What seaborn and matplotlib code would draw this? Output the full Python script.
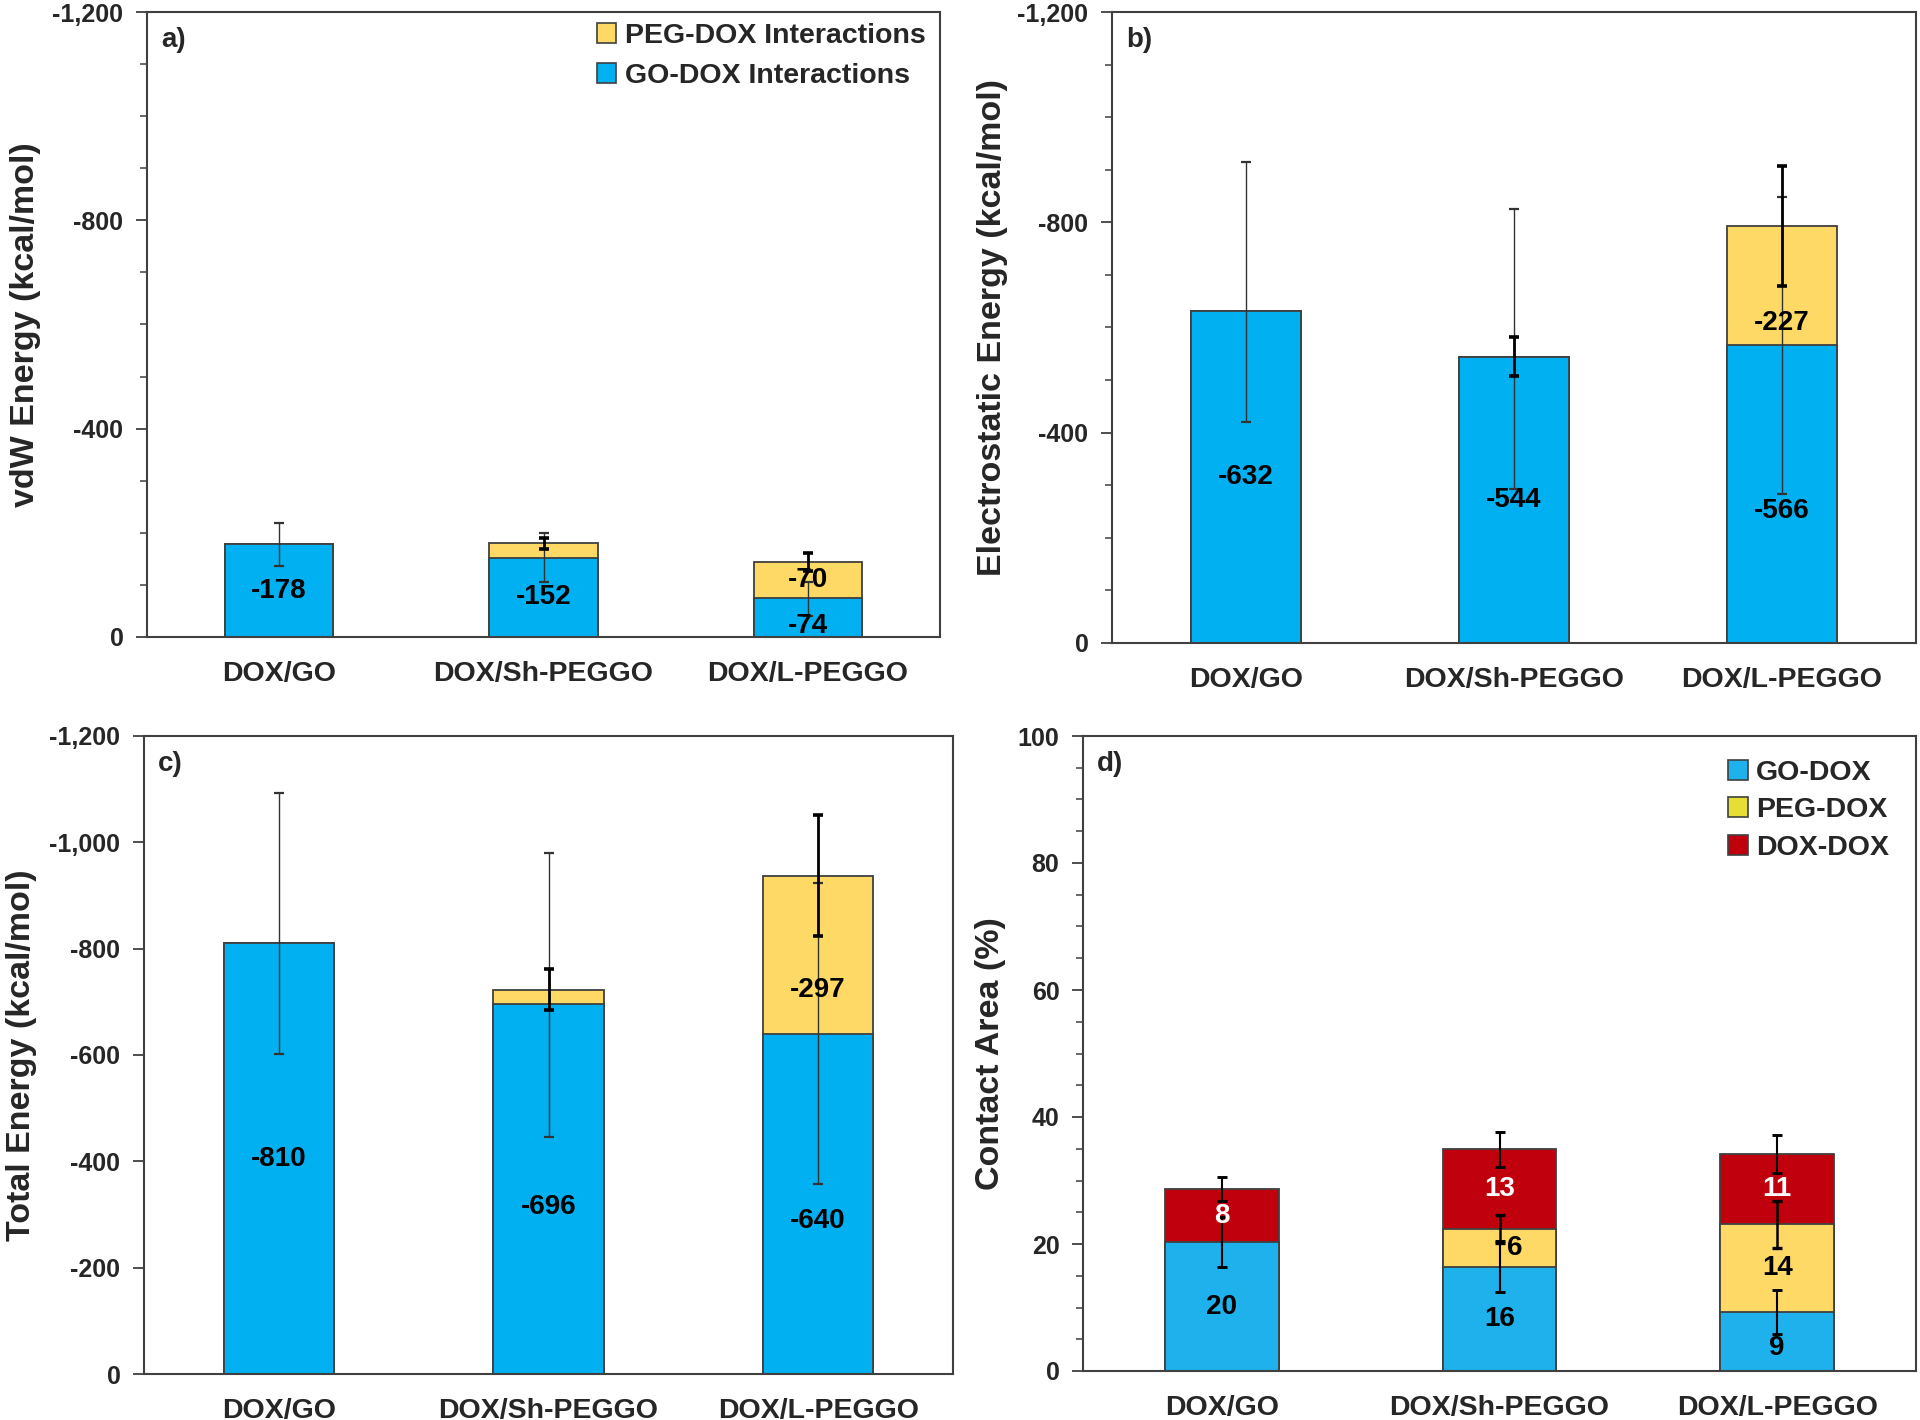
import numpy as np
import pandas as pd
import matplotlib
matplotlib.use("Agg")
import matplotlib.pyplot as plt
import matplotlib.transforms as mtransforms
from matplotlib.ticker import MultipleLocator, FuncFormatter, NullLocator
from matplotlib.patches import Patch
import seaborn as sns

# ---------------- data ----------------
categories = ["DOX/GO", "DOX/Sh-PEGGO", "DOX/L-PEGGO"]

# a) vdW energy (kcal/mol)
vdw_go = [-178, -152, -74]
vdw_peg = [0, -28, -70]
vdw_go_err_up = [41, 48, 31]
vdw_go_err_down = [41, 47, 33]
vdw_peg_err = [0, 11, 17]

# b) electrostatic energy (kcal/mol)
elec_go = [-632, -544, -566]
elec_peg = [0, 0, -227]
elec_go_err_up = [282, 282, 282]
elec_go_err_down = [211, 251, 283]
elec_peg_err = [0, 37, 114]

# c) total energy (kcal/mol)
tot_go = [-810, -696, -640]
tot_peg = [0, -27, -297]
tot_go_err_up = [282, 284, 283]
tot_go_err_down = [208, 250, 283]
tot_peg_err = [0, 38, 114]

# d) contact area (%)
area_go = [20.3, 16.4, 9.3]
area_peg = [0.0, 5.9, 13.8]
area_dox = [8.3, 12.6, 11.1]
area_go_err = [3.9, 4.0, 3.4]
area_peg_err = [0.0, 2.2, 3.7]
area_dox_err = [1.9, 2.7, 3.0]

# ---------------- style ----------------
sns.set_theme(style="white")
plt.rcParams["font.family"] = ["Liberation Sans", "DejaVu Sans"]
plt.rcParams["font.weight"] = "bold"
plt.rcParams["axes.labelweight"] = "bold"

BLUE = "#00B0F0"
BLUE_D = "#1EB1EC"
YELLOW = "#FFD966"
RED = "#C0000C"
EDGE = "#404040"
SPINE = "#404040"

fig = plt.figure(figsize=(19.2, 14.2), dpi=100)
W, H = 1920.0, 1420.0


def add_axes_px(left, top, right, bottom):
    return fig.add_axes([left / W, 1 - bottom / H, (right - left) / W, (bottom - top) / H])


ax_a = add_axes_px(147, 12, 940, 637)
ax_b = add_axes_px(1112, 12, 1916, 643)
ax_c = add_axes_px(144, 736, 953, 1374)
ax_d = add_axes_px(1083, 736, 1916, 1371)

label_shift = {
    ("a", 0, 2): (0, -6),
    ("b", 0, 2): (0, -12),
    ("b", 1, 2): (0, -27),
    ("c", 0, 1): (0, -13),
    ("c", 0, 2): (0, -12),
    ("c", 1, 2): (0, -25),
    ("d", 1, 1): (11, 0),
    ("d", 0, 2): (0, -5),
}


def draw_panel(ax, key, layers, colors, errs, err_styles, label_min, label_colors):
    cum = np.cumsum(np.array(layers, dtype=float), axis=0)
    for k in reversed(range(len(layers))):
        df = pd.DataFrame({"cat": categories, "val": cum[k]})
        sns.barplot(data=df, x="cat", y="val", order=categories, color=colors[k],
                    saturation=1, width=0.41, edgecolor=EDGE, linewidth=1.3,
                    errorbar=None, ax=ax, zorder=2)
    # error bars
    for k, (e_lo, e_hi) in enumerate(errs):
        e_lo = np.asarray(e_lo, float)
        e_hi = np.asarray(e_hi, float)
        idx = np.where((e_lo > 0) | (e_hi > 0))[0]
        if len(idx) == 0:
            continue
        lw, col = err_styles[k]
        ax.errorbar(idx, cum[k][idx], yerr=[e_lo[idx], e_hi[idx]], fmt="none",
                    ecolor=col, elinewidth=lw, capsize=3.5, capthick=lw + 0.6, zorder=4)
    # value labels
    for k in range(len(layers)):
        base = cum[k - 1] if k > 0 else np.zeros(len(categories))
        for i, v in enumerate(layers[k]):
            if abs(v) < label_min:
                continue
            mid = base[i] + v / 2.0
            dx, dy = label_shift.get((key, k, i), (0, 0))
            ax.annotate(f"{v:.0f}", xy=(i, mid), xytext=(dx, dy), textcoords="offset points",
                        ha="center", va="center", fontsize=20, fontweight="bold",
                        color=label_colors[k], zorder=5)


def style_axes(ax, major, minor, ylim, ylabel, letter, label_x):
    ax.set_xlim(-0.5, 2.5)
    ax.set_ylim(*ylim)
    ax.yaxis.set_major_locator(MultipleLocator(major))
    if minor:
        ax.yaxis.set_minor_locator(MultipleLocator(minor))
    else:
        ax.yaxis.set_minor_locator(NullLocator())
    ax.yaxis.set_major_formatter(FuncFormatter(lambda v, p: "0" if abs(v) < 1e-9 else f"{v:,.0f}"))
    ax.tick_params(axis="y", which="major", direction="out", length=8, width=1.3,
                   color=SPINE, labelsize=18, pad=9, left=True, right=False)
    ax.tick_params(axis="y", which="minor", direction="out", length=5, width=1.1,
                   color=SPINE, left=True, right=False)
    ax.tick_params(axis="x", length=0, labelsize=20.5, pad=17)
    for lab in ax.get_xticklabels() + ax.get_yticklabels():
        lab.set_fontweight("bold")
    for s in ax.spines.values():
        s.set_visible(True)
        s.set_color(SPINE)
        s.set_linewidth(1.5)
    ax.set_xlabel("")
    ax.set_ylabel(ylabel, fontsize=24.5, fontweight="bold")
    tr = mtransforms.blended_transform_factory(fig.transFigure, ax.transAxes)
    ax.yaxis.set_label_coords(label_x / W, 0.5, transform=tr)
    ax.annotate(letter, xy=(0, 1), xycoords="axes fraction", xytext=(10, -11),
                textcoords="offset points", ha="left", va="top", fontsize=20, fontweight="bold")
    ax.set_facecolor("white")


# a) vdW
draw_panel(ax_a, "a", [vdw_go, vdw_peg], [BLUE, YELLOW],
           [(vdw_go_err_up, vdw_go_err_down), (vdw_peg_err, vdw_peg_err)],
           [(1.0, "#333333"), (2.0, "black")], 40, ["black", "black"])
style_axes(ax_a, 400, 100, (0, -1200), "vdW Energy (kcal/mol)", "a)", 41)
ax_a.legend(handles=[Patch(facecolor=YELLOW, edgecolor=EDGE, linewidth=1.2),
                     Patch(facecolor=BLUE, edgecolor=EDGE, linewidth=1.2)],
            labels=["PEG-DOX Interactions", "GO-DOX Interactions"],
            loc="upper right", bbox_to_anchor=(1.0, 1.005), frameon=False,
            prop={"size": 20.5, "weight": "bold"}, handlelength=0.7, handleheight=0.7,
            handletextpad=0.3, labelspacing=0.5, borderaxespad=0.1)

# b) electrostatic
draw_panel(ax_b, "b", [elec_go, elec_peg], [BLUE, YELLOW],
           [(elec_go_err_up, elec_go_err_down), (elec_peg_err, elec_peg_err)],
           [(1.0, "#333333"), (2.0, "black")], 40, ["black", "black"])
style_axes(ax_b, 400, 100, (0, -1200), "Electrostatic Energy (kcal/mol)", "b)", 1008)

# c) total
draw_panel(ax_c, "c", [tot_go, tot_peg], [BLUE, YELLOW],
           [(tot_go_err_up, tot_go_err_down), (tot_peg_err, tot_peg_err)],
           [(1.0, "#333333"), (2.0, "black")], 40, ["black", "black"])
style_axes(ax_c, 200, None, (0, -1200), "Total Energy (kcal/mol)", "c)", 37)

# d) contact area
draw_panel(ax_d, "d", [area_go, area_peg, area_dox], [BLUE_D, YELLOW, RED],
           [(area_go_err, area_go_err), (area_peg_err, area_peg_err), (area_dox_err, area_dox_err)],
           [(1.5, "black"), (1.8, "black"), (1.5, "black")], 3, ["black", "black", "white"])
style_axes(ax_d, 20, 5, (0, 100), "Contact Area (%)", "d)", 1006)
ax_d.legend(handles=[Patch(facecolor=BLUE_D, edgecolor=EDGE, linewidth=1.2),
                     Patch(facecolor="#E6DE35", edgecolor=EDGE, linewidth=1.2),
                     Patch(facecolor=RED, edgecolor=EDGE, linewidth=1.2)],
            labels=["GO-DOX", "PEG-DOX", "DOX-DOX"],
            loc="upper right", bbox_to_anchor=(0.985, 0.985), frameon=False,
            prop={"size": 20.5, "weight": "bold"}, handlelength=0.7, handleheight=0.7,
            handletextpad=0.3, labelspacing=0.4, borderaxespad=0.1)

fig.savefig("out.png", dpi=100, facecolor="white")
